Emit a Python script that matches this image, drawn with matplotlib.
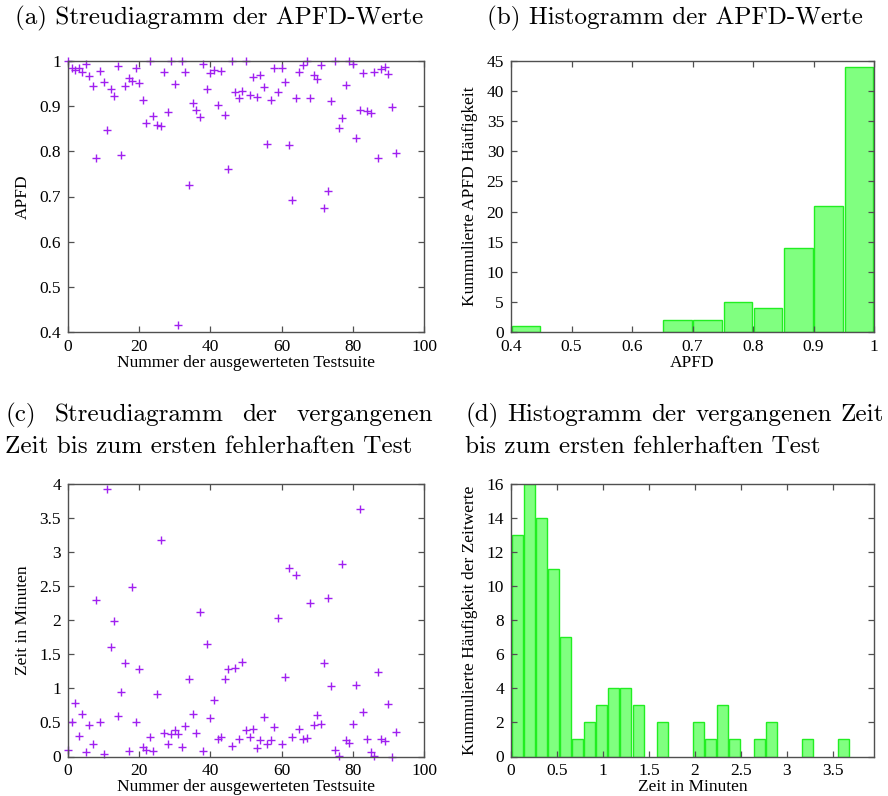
import numpy as np
import matplotlib
matplotlib.use("Agg")
import matplotlib.pyplot as plt
from matplotlib.ticker import FuncFormatter, MultipleLocator

# ---------------------------------------------------------------- data
apfd_values = [
    1.000, 0.985, 0.979, 0.984, 0.975, 0.994, 0.966, 0.945, 0.785, 0.978,
    0.954, 0.847, 0.939, 0.922, 0.990, 0.792, 0.945, 0.962, 0.956, 0.984,
    0.951, 0.914, 0.863, 1.000, 0.878, 0.859, 0.855, 0.976, 0.887, 1.000,
    0.949, 0.415, 1.000, 0.975, 0.725, 0.906, 0.892, 0.875, 0.994, 0.939,
    0.973, 0.980, 0.902, 0.978, 0.881, 0.761, 1.000, 0.931, 0.917, 0.934,
    1.000, 0.925, 0.965, 0.920, 0.970, 0.942, 0.816, 0.914, 0.984, 0.931,
    0.984, 0.954, 0.814, 0.692, 0.918, 0.976, 0.992, 1.000, 0.918, 0.968,
    0.961, 0.991, 0.674, 0.713, 0.911, 1.000, 0.851, 0.874, 0.946, 1.000,
    0.994, 0.830, 0.891, 0.973, 0.889, 0.884, 0.976, 0.785, 0.982, 0.987,
    0.971, 0.899, 0.796,
]

time_minutes = [
    0.09, 0.50, 0.79, 0.30, 0.62, 0.07, 0.46, 0.19, 2.30, 0.50,
    0.03, 3.93, 1.61, 1.99, 0.60, 0.95, 1.375, 0.08, 2.49, 0.50,
    1.28, 0.14, 0.10, 0.29, 0.08, 0.92, 3.18, 0.34, 0.18, 0.33,
    0.39, 0.33, 0.14, 0.45, 1.135, 0.63, 0.34, 2.115, 0.085, 1.645,
    0.57, 0.83, 0.26, 0.29, 1.14, 1.28, 0.16, 1.30, 0.26, 1.39,
    0.385, 0.29, 0.40, 0.12, 0.24, 0.58, 0.18, 0.24, 0.44, 2.03,
    0.19, 1.17, 2.76, 0.29, 2.66, 0.40, 0.26, 0.27, 2.26, 0.46,
    0.61, 0.48, 1.37, 2.33, 1.04, 0.10, 0.01, 2.83, 0.24, 0.20,
    0.47, 1.05, 3.63, 0.65, 0.25, 0.07, 0.01, 1.24, 0.26, 0.23,
    0.77, 0.00, 0.365,
]

suite_nr = np.arange(len(apfd_values))

# APFD histogram: bins of 0.05 starting at 0.4
apfd_bin_left = [0.40, 0.45, 0.50, 0.55, 0.60, 0.65, 0.70, 0.75, 0.80, 0.85, 0.90, 0.95]
apfd_counts = [1, 0, 0, 0, 0, 2, 2, 5, 4, 14, 21, 44]
apfd_bin_width = 0.05

# time histogram
time_bin_width = 0.1317
time_counts = [13, 16, 14, 11, 7, 1, 2, 3, 4, 4, 3, 0, 2, 0,
               0, 2, 1, 3, 1, 0, 1, 2, 0, 0, 1, 0, 0, 1]

# ---------------------------------------------------------------- style
W, H = 888, 796
DPI = 100
MARK = "#a020f0"
BAR_FACE = "#80ff80"
BAR_EDGE = "#22ee22"
AXIS_COL = "#505050"
SERIF = ["Liberation Serif", "DejaVu Serif"]
TITLE_FONT = ["cmr10", "DejaVu Serif"]
TICK_FS = 12.5
LABEL_FS = 12.5
TITLE_FS = 18.1

plt.rcParams["font.family"] = SERIF
plt.rcParams["axes.unicode_minus"] = False

fig = plt.figure(figsize=(W / DPI, H / DPI), dpi=DPI)


def px_axes(left, top, right, bottom):
    return fig.add_axes([left / W, 1 - bottom / H, (right - left) / W, (bottom - top) / H])


def gformat(v, pos):
    return "%g" % round(v, 6)


def style_axes(ax):
    for s in ax.spines.values():
        s.set_color(AXIS_COL)
        s.set_linewidth(1.0)
    ax.tick_params(which="both", direction="in", top=True, right=True,
                   length=4.5, width=0.9, color=AXIS_COL,
                   labelsize=TICK_FS, pad=5)
    ax.xaxis.set_major_formatter(FuncFormatter(gformat))
    ax.yaxis.set_major_formatter(FuncFormatter(gformat))


ax_a = px_axes(68, 61, 424, 332)
ax_b = px_axes(511, 61, 874, 332)
ax_c = px_axes(68, 484, 424, 756.5)
ax_d = px_axes(511, 484, 874, 756.5)

# (a) scatter of APFD values
ax_a.plot(suite_nr, apfd_values, linestyle="none", marker="+", color=MARK,
          markersize=6, markeredgewidth=1.0, clip_on=False)
ax_a.set_xlim(0, 100)
ax_a.set_ylim(0.4, 1.0)
ax_a.xaxis.set_major_locator(MultipleLocator(20))
ax_a.yaxis.set_major_locator(MultipleLocator(0.1))
ax_a.set_xlabel("Nummer der ausgewerteten Testsuite", fontsize=LABEL_FS, labelpad=0)
ax_a.set_ylabel("APFD", fontsize=LABEL_FS, labelpad=6)
style_axes(ax_a)

# (b) histogram of APFD values
centers_b = np.asarray(apfd_bin_left) + apfd_bin_width / 2
cnt_b = np.asarray(apfd_counts)
keep_b = cnt_b > 0
ax_b.bar(centers_b[keep_b], cnt_b[keep_b], width=apfd_bin_width * 0.94,
         color=BAR_FACE, edgecolor=BAR_EDGE, linewidth=1.0)
ax_b.set_xlim(0.4, 1.0)
ax_b.set_ylim(0, 45)
ax_b.xaxis.set_major_locator(MultipleLocator(0.1))
ax_b.yaxis.set_major_locator(MultipleLocator(5))
ax_b.set_xlabel("APFD", fontsize=LABEL_FS, labelpad=0)
ax_b.set_ylabel("Kummulierte APFD Häufigkeit", fontsize=LABEL_FS, labelpad=6)
style_axes(ax_b)

# (c) scatter of elapsed time
ax_c.plot(suite_nr, time_minutes, linestyle="none", marker="+", color=MARK,
          markersize=6, markeredgewidth=1.0, clip_on=False)
ax_c.set_xlim(0, 100)
ax_c.set_ylim(0, 4)
ax_c.xaxis.set_major_locator(MultipleLocator(20))
ax_c.yaxis.set_major_locator(MultipleLocator(0.5))
ax_c.set_xlabel("Nummer der ausgewerteten Testsuite", fontsize=LABEL_FS, labelpad=0)
ax_c.set_ylabel("Zeit in Minuten", fontsize=LABEL_FS, labelpad=6)
style_axes(ax_c)

# (d) histogram of elapsed time
cnt_d = np.asarray(time_counts)
centers_d = (np.arange(len(cnt_d)) + 0.5) * time_bin_width
keep_d = cnt_d > 0
ax_d.bar(centers_d[keep_d], cnt_d[keep_d], width=time_bin_width * 0.91,
         color=BAR_FACE, edgecolor=BAR_EDGE, linewidth=1.0)
ax_d.set_xlim(0, 3.95)
ax_d.set_ylim(0, 16)
ax_d.xaxis.set_major_locator(MultipleLocator(0.5))
ax_d.yaxis.set_major_locator(MultipleLocator(2))
ax_d.set_xlabel("Zeit in Minuten", fontsize=LABEL_FS, labelpad=0)
ax_d.set_ylabel("Kummulierte Häufigkeit der Zeitwerte", fontsize=LABEL_FS, labelpad=6)
style_axes(ax_d)

# ---------------------------------------------------------------- captions
title_kw = dict(fontsize=TITLE_FS, family=TITLE_FONT, va="baseline")
LEFT_COL = (5, 433)
RIGHT_COL = (465, 884)


def caption(x_px, y_px, s, ha="left"):
    return fig.text(x_px / W, 1 - y_px / H, s, ha=ha, **title_kw)


def centered(col, y_px, s):
    return caption((col[0] + col[1]) / 2, y_px, s, ha="center")


def justified(col, y_px, words):
    x0_px, x1_px = col
    texts = [caption(x0_px, y_px, w) for w in words]
    fig.canvas.draw()
    r = fig.canvas.get_renderer()
    widths = [t.get_window_extent(r).width for t in texts]
    gap = (x1_px - x0_px - sum(widths)) / (len(words) - 1)
    x = x0_px
    for t, w in zip(texts, widths):
        t.set_x(x / W)
        x += w + gap


centered(LEFT_COL, 24, "(a) Streudiagramm der APFD-Werte")
centered(RIGHT_COL, 24, "(b) Histogramm der APFD-Werte")
justified(LEFT_COL, 421, ["(c)", "Streudiagramm", "der", "vergangenen"])
caption(LEFT_COL[0], 453, "Zeit bis zum ersten fehlerhaften Test")
justified(RIGHT_COL, 421, ["(d)", "Histogramm", "der", "vergangenen", "Zeit"])
caption(RIGHT_COL[0], 453, "bis zum ersten fehlerhaften Test")

fig.savefig("out.png", dpi=DPI)
